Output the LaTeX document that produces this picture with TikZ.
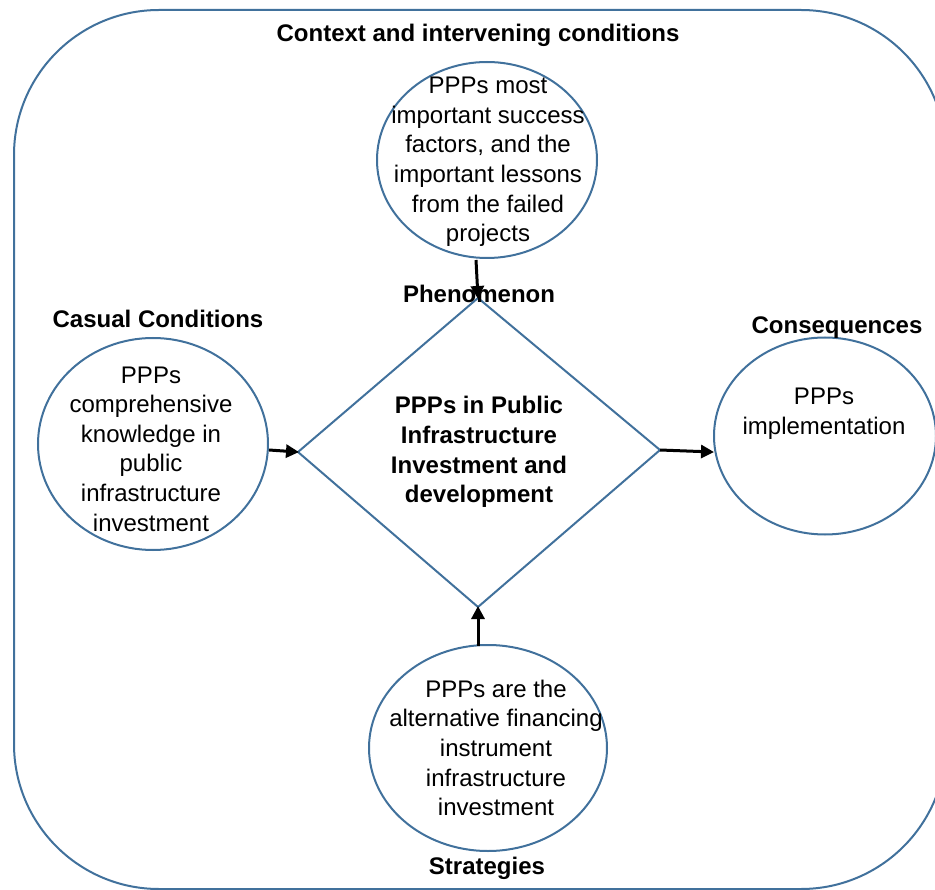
\documentclass[tikz,border=0pt]{standalone}
\usepackage{fontspec}
\setmainfont{Liberation Sans}
\usetikzlibrary{shapes.geometric,arrows.meta}
\definecolor{edgeblue}{HTML}{41719C}
\tikzset{
  oval/.style={draw=edgeblue, line width=2pt, ellipse, inner sep=0pt},
  bodytext/.style={align=center, font=\fontsize{24}{29.6}\selectfont, inner sep=0pt},
  headtext/.style={align=center, font=\fontsize{24}{29.6}\selectfont\bfseries, inner sep=0pt},
  flow/.style={line width=3pt, -{Triangle[length=13pt,width=13pt]}, shorten >=-1pt}
}
\begin{document}
\begin{tikzpicture}[x=1pt,y=-1pt]
\useasboundingbox (0,0) rectangle (935,890);
\begin{scope}
\clip (0,0) rectangle (935,890);
% outer frame
\draw[edgeblue, line width=2pt, rounded corners=145pt] (14,10) rectangle (946,889);
\end{scope}

\node[headtext] (ctx) at (478,35) {Context and intervening conditions};

% central diamond
\coordinate (dT) at (478,298);
\coordinate (dL) at (298,452);
\coordinate (dR) at (660,450);
\coordinate (dB) at (478,607);
\draw[edgeblue, line width=2pt, line join=miter] (dT) -- (dR) -- (dB) -- (dL) -- cycle;
\node[headtext] (core) at (479,452) {PPPs in Public\\Infrastructure\\Investment and\\development};

% surrounding ovals
\node[oval, minimum width=220pt, minimum height=196pt] (top) at (487,160) {};
\node[bodytext] (toptxt) at (488,162) {PPPs most\\important success\\factors, and the\\important lessons\\from the failed\\projects};

\node[oval, minimum width=230pt, minimum height=212pt] (left) at (153,444) {};
\node[bodytext] (lefttxt) at (151,449) {PPPs\\comprehensive\\knowledge in\\public\\infrastructure\\investment};

\node[oval, minimum width=222pt, minimum height=197pt] (right) at (825,436) {};
\node[bodytext] (righttxt) at (824,414) {PPPs\\implementation};

\node[oval, minimum width=238pt, minimum height=206pt] (bottom) at (488,748) {};
\node[bodytext] (bottomtxt) at (496,748) {PPPs are the\\alternative financing\\instrument\\infrastructure\\investment};

% headings
\node[headtext] (phen) at (479,294) {Phenomenon};
\node[headtext] (cause) at (158,319) {Casual Conditions};
\node[headtext] (conseq) at (837,328) {Consequences};
\node[headtext] (strat) at (487,868) {Strategies};

% connectors
\draw[flow] (476,260) -- (dT);
\draw[flow] (left.east |- 0,450) -- (dL);
\draw[flow] (dR) -- (right.west |- 0,452);
\draw[flow] (478,646) -- (dB);
\end{tikzpicture}
\end{document}
